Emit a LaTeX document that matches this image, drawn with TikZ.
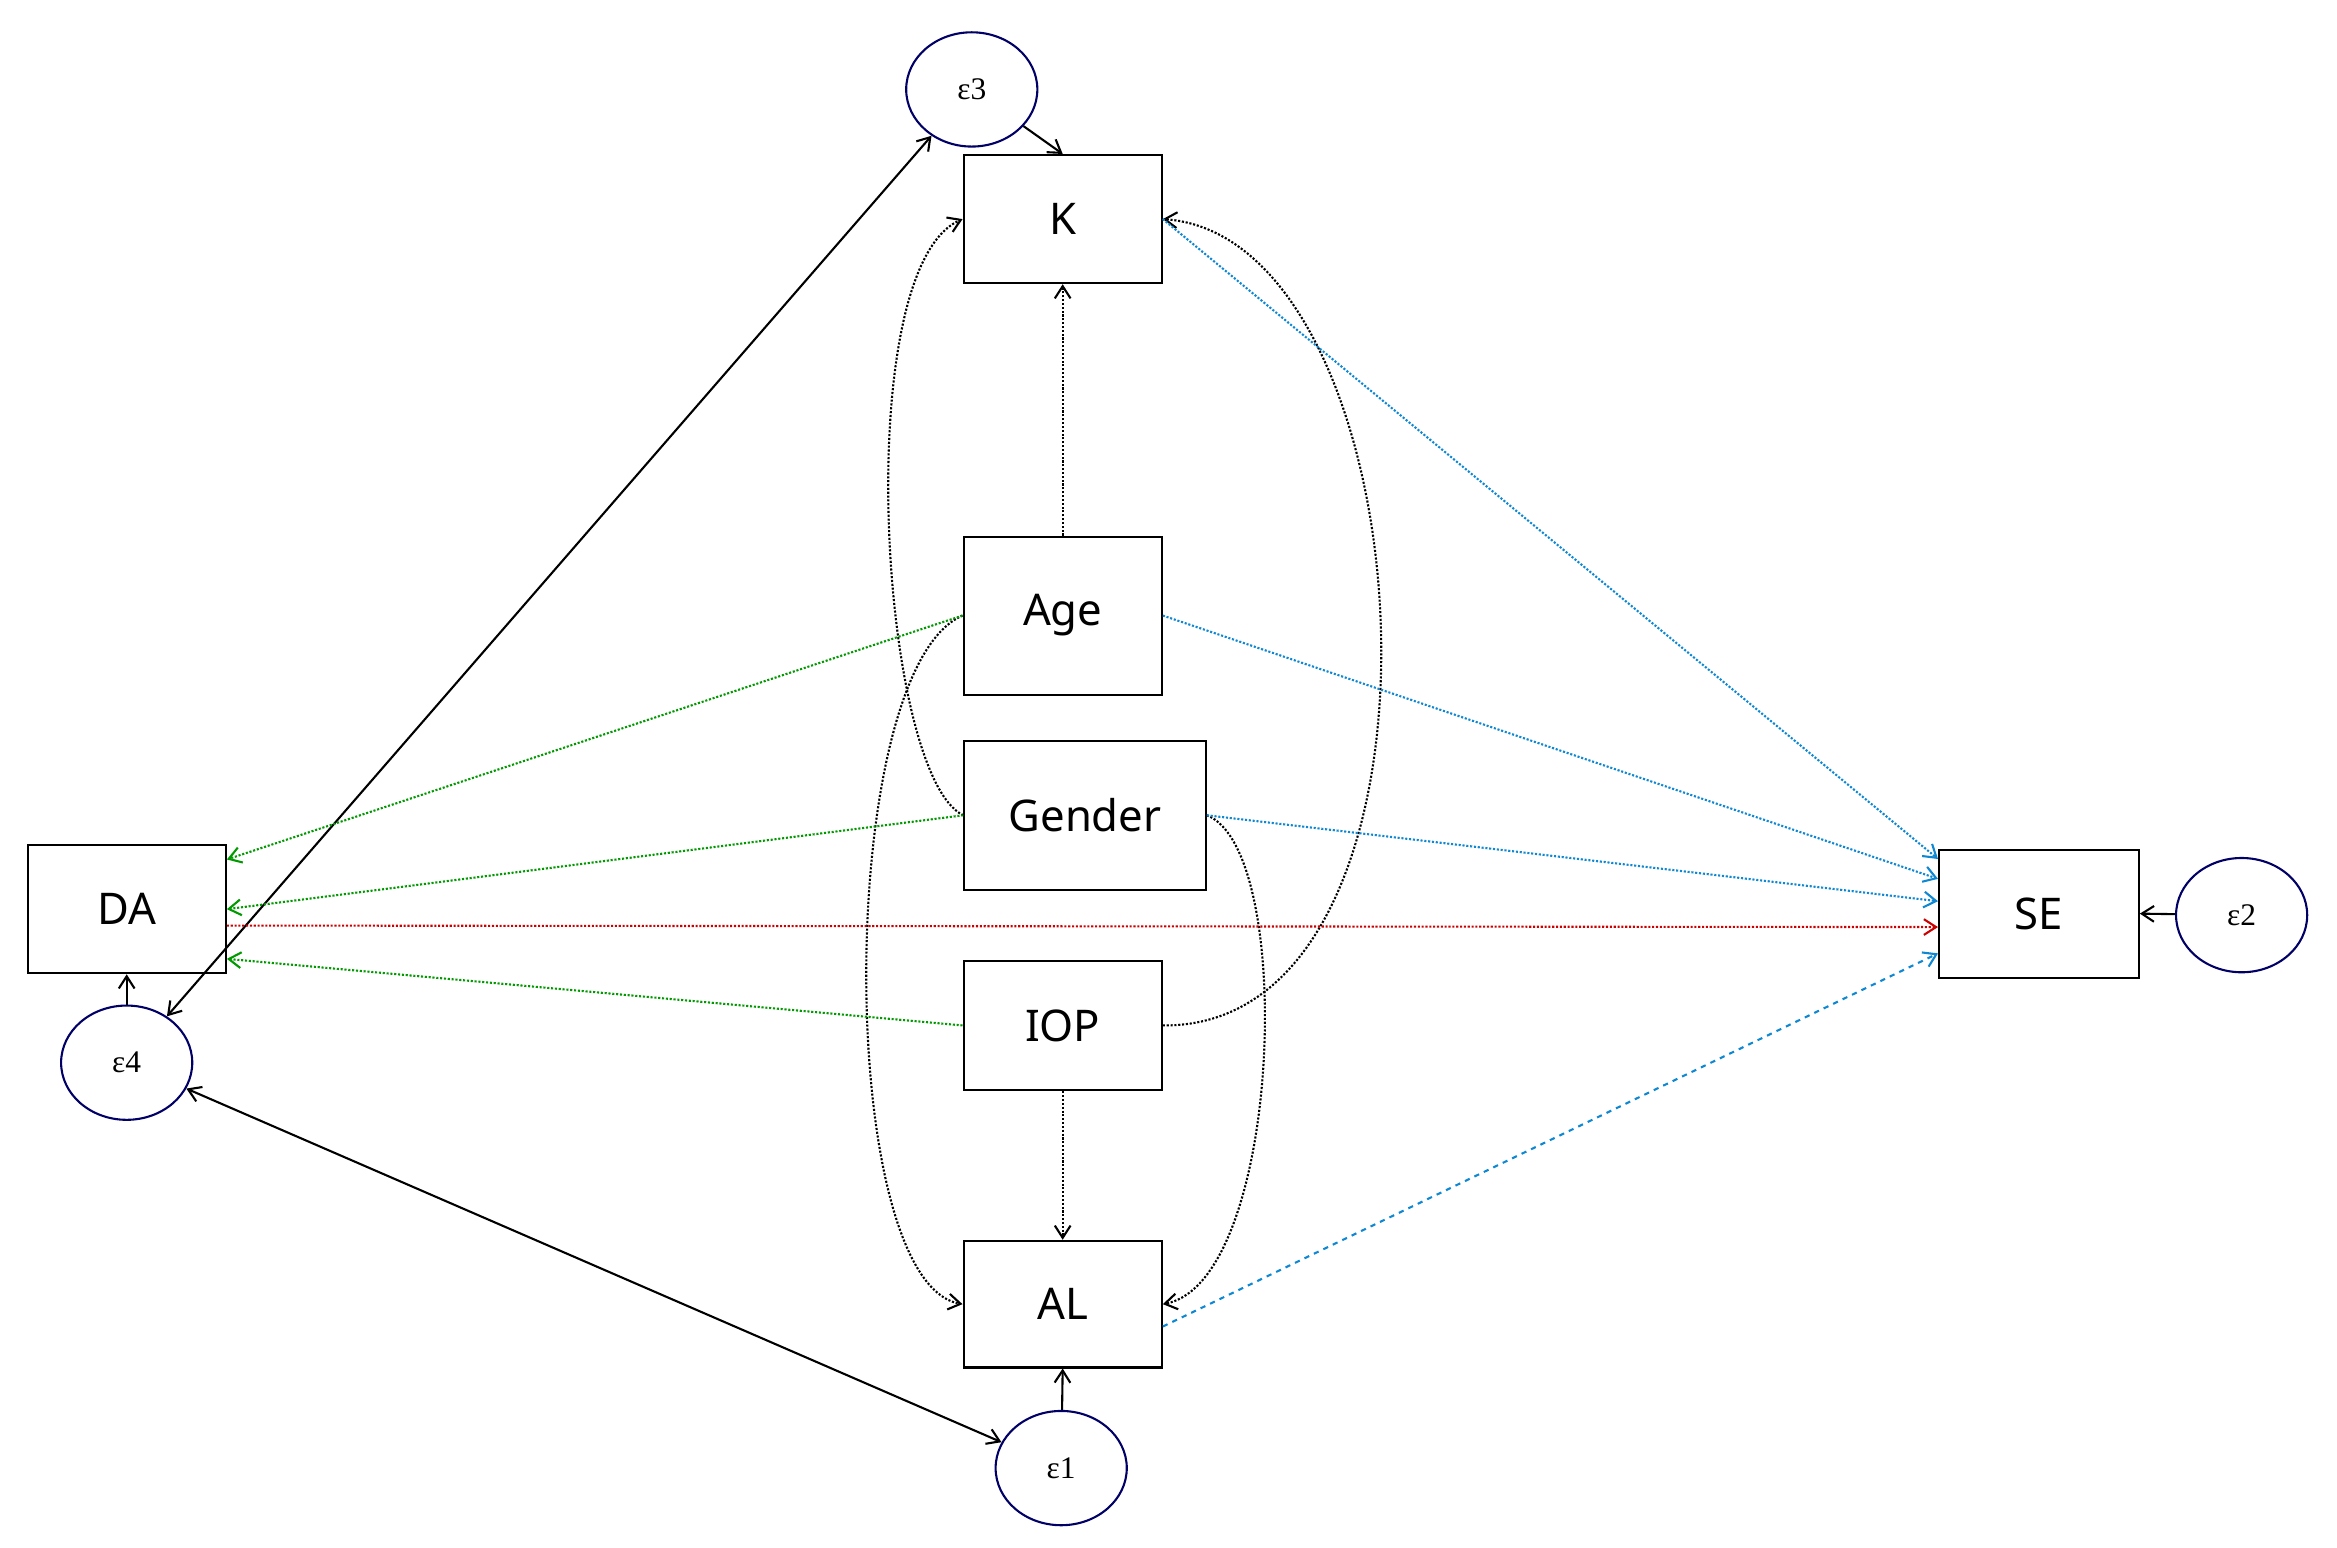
\documentclass[tikz,border=0pt]{standalone}
\usepackage{fontspec}
\setmainfont{Noto Sans}
\newfontfamily\serifeps{Liberation Serif}
\usetikzlibrary{arrows.meta,shapes.geometric}
\begin{document}
\begin{tikzpicture}[x=0.03cm,y=-0.03cm,
  box/.style={draw,very thick,minimum width=3.99cm,anchor=center,font=\fontsize{25}{25}\selectfont,inner sep=0pt},
  err/.style={draw=blue!40!black,very thick,ellipse,minimum width=2.64cm,minimum height=2.3cm,inner sep=0pt,font=\serifeps\fontsize{18}{18}\selectfont},
  arr/.style={-{Straight Barb[length=7pt,width=9pt]},very thick},
  darr/.style={{Straight Barb[length=7pt,width=9pt]}-{Straight Barb[length=7pt,width=9pt]},very thick},
  dot/.style={arr,densely dotted},
  gdot/.style={dot,draw=green!60!black},
  bdot/.style={dot,draw=cyan!70!blue},
  ]
\useasboundingbox (0,0) rectangle (1568,1038);
\node[box,minimum height=2.58cm] (K) at (713,147) {K};
\node[box,minimum height=3.18cm] (Age) at (713,413) {Age};
\node[box,minimum width=4.86cm,minimum height=3cm] (Gen) at (728,547) {Gender};
\node[box,minimum height=2.61cm] (IOP) at (713,688) {IOP};
\node[box,minimum height=2.55cm] (AL) at (713,875) {AL};
\node[box,minimum height=2.58cm] (DA) at (85,610) {DA};
\node[box,minimum width=4.02cm,minimum height=2.58cm] (SE) at (1368,613) {SE};
\node[err] (e3) at (652,60) {ε3};
\node[err] (e4) at (85,713) {ε4};
\node[err] (e1) at (712,985) {ε1};
\node[err] (e2) at (1504,614) {ε2};
% error arrows
\draw[arr] (e3) -- (K.north);
\draw[arr] (e1) -- (AL.south);
\draw[arr] (e4) -- (DA.south);
\draw[arr] (e2) -- (SE.east);
\draw[darr] (e3) -- (e4);
\draw[darr] (e4) -- (e1);
% black dotted
\draw[dot] (Age.north) -- (K.south);
\draw[dot] (IOP.south) -- (AL.north);
\draw[dot] (Gen.west) .. controls (590,520) and (570,180) .. (K.west);
\draw[dot] (Gen.east) .. controls (870,570) and (860,860) .. (AL.east);
\draw[dot] (Age.west) .. controls (560,450) and (560,860) .. (AL.west);
\draw[dot] (IOP.east) .. controls (990,690) and (960,160) .. (K.east);
% green
\draw[gdot] (Age.west) -- ([yshift=1cm]DA.east);
\draw[gdot] (Gen.west) -- (DA.east);
\draw[gdot] (IOP.west) -- ([yshift=-1cm]DA.east);
% red
\draw[dot,draw=red!80!black] ([yshift=-0.33cm]DA.east) -- ([yshift=-0.27cm]SE.west);
% blue
\draw[bdot] (K.east) -- ([yshift=1.1cm]SE.west);
\draw[bdot] (Age.east) -- ([yshift=0.7cm]SE.west);
\draw[bdot] (Gen.east) -- ([yshift=0.25cm]SE.west);
\draw[arr,dashed,draw=cyan!70!blue] ([yshift=-0.45cm]AL.east) -- ([yshift=-0.8cm]SE.west);
\end{tikzpicture}
\end{document}
